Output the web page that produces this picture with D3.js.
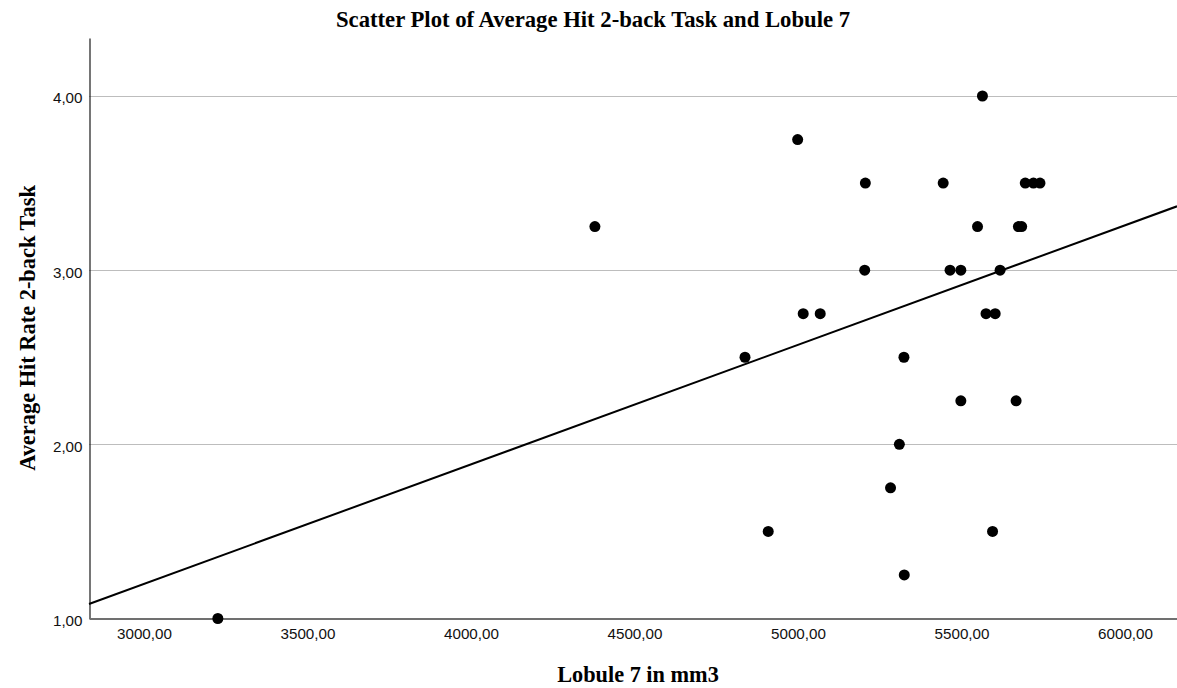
<!DOCTYPE html>
<html>
<head>
<meta charset="utf-8">
<script src="https://cdn.jsdelivr.net/npm/d3@7"></script>
<style>
  html, body { margin: 0; padding: 0; background: #fff; }
  svg { display: block; }
</style>
</head>
<body>
<svg id="chart" width="1177" height="688"></svg>
<script>
const chartTitle = "Scatter Plot of Average Hit 2-back Task and Lobule 7";
const xTitle = "Lobule 7 in mm3";
const yTitle = "Average Hit Rate 2-back Task";

// Lobule 7 volume (mm3)
const lobule7 = [3226, 4379, 4838, 4909, 4999, 5016, 5068, 5204, 5206, 5283,
                 5310, 5324, 5325, 5444, 5465, 5498, 5498, 5549, 5564, 5575,
                 5595, 5603, 5618, 5667, 5674, 5684, 5695, 5720, 5740];
// Average hit rate on the 2-back task
const hitRate = [1.00, 3.25, 2.50, 1.50, 3.75, 2.75, 2.75, 3.00, 3.50, 1.75,
                 2.00, 2.50, 1.25, 3.50, 3.00, 3.00, 2.25, 3.25, 4.00, 2.75,
                 1.50, 2.75, 3.00, 2.25, 3.25, 3.25, 3.50, 3.50, 3.50];

const xTicks = [3000, 3500, 4000, 4500, 5000, 5500, 6000];
const yTicks = [1, 2, 3, 4];

// Fit line as shown in the chart
const fitIntercept = -0.8603;
const fitSlope = 0.0006863;

const xDomain = [2832, 6159];
const yDomain = [1, 4.333];

const fmt = v => d3.format(".2f")(v).replace(".", ",");

const svg = d3.select("#chart");
const x = d3.scaleLinear().domain(xDomain).range([89, 1177]);
const y = d3.scaleLinear().domain(yDomain).range([618.5, 38]);

// Gridlines
svg.append("g")
  .selectAll("line")
  .data(yTicks.filter(t => t !== 1))
  .join("line")
  .attr("x1", x(xDomain[0])).attr("x2", x(xDomain[1]))
  .attr("y1", d => Math.round(y(d)) + 0.5).attr("y2", d => Math.round(y(d)) + 0.5)
  .attr("stroke", "#bdbdbd").attr("stroke-width", 1.2);

// Y axis
const yAxis = d3.axisLeft(y).tickValues(yTicks).tickFormat(fmt).tickSize(0).tickPadding(7);
const gy = svg.append("g").attr("transform", "translate(89.5,0)").call(yAxis);
gy.select(".domain").attr("stroke", "#1a1a1a").attr("stroke-width", 1.2);
gy.selectAll("text").attr("font-family", "'Liberation Sans', Arial, sans-serif")
  .attr("font-size", 15.2).attr("fill", "#111").attr("dy", "0.45em");

// X axis
const xAxis = d3.axisBottom(x).tickValues(xTicks).tickFormat(fmt).tickSize(0).tickPadding(10);
const gx = svg.append("g").attr("transform", "translate(0,618.5)").call(xAxis);
gx.select(".domain").attr("stroke", "#707070").attr("stroke-width", 2);
gx.selectAll("text").attr("font-family", "'Liberation Sans', Arial, sans-serif")
  .attr("font-size", 15.2).attr("fill", "#111");

// Fit line
const lineData = xDomain.map(v => ({ x: v, y: fitIntercept + fitSlope * v }));
svg.append("path")
  .datum(lineData)
  .attr("d", d3.line().x(d => x(d.x)).y(d => y(d.y)))
  .attr("fill", "none").attr("stroke", "#000").attr("stroke-width", 2);

// Points
svg.append("g")
  .selectAll("circle")
  .data(lobule7.map((v, i) => ({ x: v, y: hitRate[i] })))
  .join("circle")
  .attr("cx", d => x(d.x)).attr("cy", d => y(d.y))
  .attr("r", 5.5).attr("fill", "#000");

// Titles
svg.append("text")
  .attr("x", 593).attr("y", 27)
  .attr("text-anchor", "middle")
  .attr("font-family", "'Liberation Serif', 'Times New Roman', serif")
  .attr("font-weight", "bold").attr("font-size", 22.7).attr("fill", "#000")
  .text(chartTitle);

svg.append("text")
  .attr("x", 638).attr("y", 682)
  .attr("text-anchor", "middle")
  .attr("font-family", "'Liberation Serif', 'Times New Roman', serif")
  .attr("font-weight", "bold").attr("font-size", 22.3).attr("fill", "#000")
  .text(xTitle);

svg.append("text")
  .attr("transform", "translate(35,328) rotate(-90)")
  .attr("text-anchor", "middle")
  .attr("font-family", "'Liberation Serif', 'Times New Roman', serif")
  .attr("font-weight", "bold").attr("font-size", 22.4).attr("fill", "#000")
  .text(yTitle);
</script>
</body>
</html>
